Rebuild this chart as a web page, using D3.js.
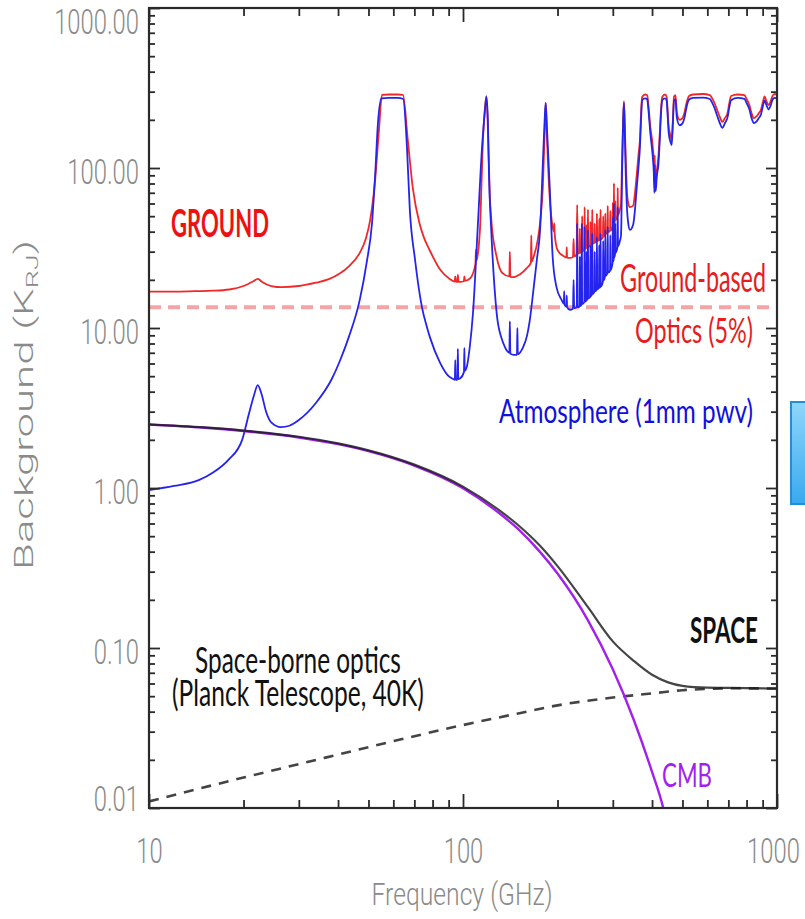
<!DOCTYPE html>
<html>
<head>
<meta charset="utf-8">
<script src="https://cdn.jsdelivr.net/npm/d3@7"></script>
<style>
  html, body { margin: 0; padding: 0; background: #fff; }
  svg { display: block; }
</style>
</head>
<body>
<div id="container"></div>
<script>
// ---- data (frequency in GHz, brightness in K_RJ) ----
const freqMajor = [10, 100, 1000];
const bgMajor = [0.01, 0.1, 1, 10, 100, 1000];

// total ground-based background (atmosphere + warm optics + CMB)
const groundTotal = [
  [10, 16.9], [12, 16.9], [14, 17.0], [16, 17.1], [18, 17.4], [20, 18.3], [21.5, 19.6], [22.2, 20.3],
  [23, 19.3], [24.5, 18.3], [26.5, 18.0], [30, 18.3], [34, 19.2], [37.4, 20.2], [40.5, 21.9], [43.3, 24.3],
  [46.9, 29.5], [49, 36], [50.6, 47], [52.5, 84], [54, 173], [55.2, 286], [58, 288], [62, 288], [64.4, 286],
  [66.7, 150], [69.2, 75], [72.7, 45], [75, 37], [78.4, 30.5], [84.4, 23.3], [90.9, 20.2], [94, 19.5],
  [94.5, 21], [95, 19.5], [96, 19.4], [96.3, 21.5], [96.7, 19.4], [97.9, 19.4], [100.6, 19.6], [101, 21],
  [101.4, 19.7], [105.5, 20.5], [109.5, 25], [110, 31], [110.5, 26.5], [111.5, 29], [113.5, 45], [115.5, 135],
  [117.3, 230], [118.75, 282], [120.3, 150], [121.8, 65], [123, 48], [128, 27.8], [133.6, 22], [140.5, 21],
  [141, 29.9], [141.5, 20.9], [144, 20.8], [152, 21.7], [159.6, 23.7], [164.5, 25.5], [165, 38], [165.5, 26],
  [168, 28], [173, 35.5], [176.5, 48], [179.6, 76], [182, 170], [183.4, 255], [185, 160], [187.5, 84],
  [193, 42.8], [195, 40], [195.4, 45], [195.8, 39], [200, 30.7], [210, 28], [213.5, 27.6], [214, 32],
  [214.5, 27.5], [219, 27.4], [224, 27.8], [225, 36], [226, 28], [230, 29], [231, 58.8], [232, 29.2],
  [235, 29.4], [235.6, 42], [236.2, 29.5], [239, 30], [239.6, 50], [240.2, 30.2], [243.5, 31], [244, 57],
  [244.6, 31.2], [247, 31.6], [247.6, 44], [248.2, 31.8], [249.5, 32], [250, 55], [250.6, 32.2], [254, 32.8],
  [254.6, 46], [255.2, 33], [257.5, 33.4], [258, 55], [258.6, 33.6], [262, 34], [262.6, 45], [263.2, 34.2],
  [266.5, 34.8], [267, 52], [267.6, 35], [271, 35.2], [271.6, 48], [272.2, 35.4], [273.5, 35.5], [274.2, 55],
  [274.8, 35.8], [279, 37], [279.6, 50], [280.2, 37.2], [283.5, 38.5], [284, 52], [284.6, 38.8], [288.5, 39.5],
  [289, 58], [289.6, 39.8], [294, 40.5], [294.6, 54], [295.2, 40.8], [299.5, 43], [300, 60.7], [300.6, 43.5],
  [302, 45], [302.5, 80], [303, 45.5], [305, 47], [305.6, 62], [306.2, 47.5], [310.5, 50], [311, 75],
  [311.6, 50.5], [316, 55], [318.6, 60], [321, 110], [323.5, 200], [325.5, 262], [327.5, 190], [330, 110],
  [333, 70], [336, 60], [340, 57], [348, 58], [353, 70], [357, 88], [362, 120], [366, 150], [369, 220],
  [372, 278], [380, 288], [386, 286], [390, 240], [395, 180], [401, 143], [405, 110], [407, 82], [408, 120],
  [409, 84], [411, 81], [414, 95], [419, 117], [423, 160], [427, 230], [431, 278], [440, 288], [445, 280],
  [449, 220], [452, 180], [458, 160], [462, 150], [466, 200], [470, 280], [475, 285], [480, 221], [490, 200],
  [500, 205], [507, 221], [515, 255], [525, 282], [540, 288], [580, 290], [611, 285], [620, 275], [632, 255],
  [645, 230], [658, 208], [670, 194], [682, 205], [696, 221], [705, 255], [714, 282], [750, 288], [787, 285],
  [800, 270], [817, 247], [830, 220], [844, 205], [860, 210], [875, 220], [889, 231], [900, 255], [913, 280],
  [925, 262], [940, 247], [955, 262], [970, 285], [985, 290], [1000, 286]
];

// atmosphere alone, 1mm pwv
const atmosphere = [
  [10, 0.97], [12, 1.03], [14.4, 1.12], [16, 1.25], [17.9, 1.5], [19.8, 2.0], [20.8, 2.9], [21.6, 3.8],
  [22.2, 4.4], [22.8, 3.9], [23.6, 3.0], [24.6, 2.55], [26.3, 2.4], [28, 2.45], [30, 2.66], [34, 3.4],
  [38.2, 4.8], [40.5, 6.2], [43.3, 8.8], [46.9, 15], [49.4, 26], [51.3, 45], [52.5, 90], [53.6, 191],
  [55, 272], [58, 274], [62, 274], [64.5, 270], [66.3, 135], [67.7, 55], [70.3, 27], [74, 13.5],
  [76.9, 10], [78.4, 8.8], [84.4, 6.1], [90, 5.0], [93, 4.8], [94.2, 4.75], [94.5, 6.3], [94.8, 4.75],
  [96, 4.75], [96.3, 7.4], [96.6, 4.8], [98, 4.85], [100.7, 5.3], [101, 7.5], [101.3, 5.4], [103, 5.8],
  [105, 7.5], [107.6, 12.4], [111.3, 41], [115, 135], [117.5, 230], [118.75, 278], [120, 200], [121, 90],
  [123, 41], [128, 12.4], [133, 8.5], [136, 7.6], [138, 7.2], [140.5, 7.0], [141, 11], [141.5, 6.9],
  [145, 6.8], [148.5, 6.8], [149, 10], [149.5, 6.85], [155, 7.5], [160, 9], [163, 11], [168, 18], [172, 27],
  [176, 41], [179.6, 107], [182, 200], [183.4, 255], [185, 180], [189, 74], [193, 27.8], [198.5, 18],
  [206, 15], [209.5, 14.2], [210, 17], [210.5, 14], [213.5, 13.6], [214, 16], [214.5, 13.5], [219, 13.0],
  [224, 13.2], [225, 20], [226, 13.3], [230.4, 13.5], [231, 45], [231.6, 13.5], [235, 13.6], [235.6, 28],
  [236.2, 13.7], [238.4, 14], [239, 45], [239.6, 14.1], [243.4, 14.5], [244, 43], [244.6, 14.6], [247, 14.9],
  [247.6, 30], [248.2, 15], [249.4, 15.2], [250, 41], [250.6, 15.3], [254, 15.6], [254.6, 33], [255.2, 15.8],
  [257.4, 16.2], [258, 39], [258.6, 16.3], [262, 16.8], [262.6, 30], [263.2, 17], [266.4, 17.3], [267, 37],
  [267.6, 17.5], [271, 17.8], [271.6, 33], [272.2, 17.9], [273.6, 18], [274.2, 39], [274.8, 18.2], [279, 19.5],
  [279.6, 35], [280.2, 19.8], [283.4, 21], [284, 41], [284.6, 21.2], [288.4, 22], [289, 43], [289.6, 22.2],
  [294, 22.8], [294.6, 38], [295.2, 23], [299.4, 25.5], [300, 49], [300.6, 26], [302, 27], [302.5, 60],
  [303, 27.5], [305, 29], [305.6, 45], [306.2, 29.5], [310.4, 32], [311, 57], [311.6, 32.5], [316, 35],
  [318.6, 38], [321, 90], [323.5, 190], [325.5, 255], [327.5, 170], [330, 90], [333, 55], [336, 45], [340, 41],
  [348, 44], [353, 55], [357, 73], [362, 100], [366, 135], [369, 200], [372, 265], [380, 272], [386, 268],
  [390, 225], [395, 165], [401, 125], [405, 95], [407, 70], [408, 105], [409, 72], [411, 72], [414, 88],
  [419, 105], [423, 145], [427, 215], [431, 265], [440, 272], [445, 265], [449, 205], [452, 165], [458, 145],
  [462, 139], [466, 190], [470, 265], [475, 268], [480, 205], [490, 185], [500, 190], [507, 205], [515, 240],
  [525, 268], [540, 274], [580, 275], [611, 270], [620, 258], [632, 238], [645, 212], [658, 190], [670, 178],
  [682, 190], [696, 208], [705, 240], [714, 265], [750, 274], [787, 270], [800, 255], [817, 232], [830, 205],
  [844, 191], [860, 195], [875, 205], [889, 216], [900, 240], [913, 265], [925, 248], [940, 232], [955, 247],
  [970, 270], [985, 274], [1000, 272]
];

const groundOptics = [[10, 13.5], [1000, 13.5]];

const cmb = [
  [10, 2.49], [15, 2.38], [20, 2.27], [30, 2.07], [40, 1.88], [50, 1.70], [70, 1.38], [100, 0.996],
  [130, 0.70], [150, 0.553], [175, 0.403], [200, 0.292], [250, 0.149], [300, 0.0736], [350, 0.0355],
  [400, 0.0168], [433, 0.0102], [440, 0.0089]
];

const spaceOptics = [
  [10, 0.011], [20, 0.0155], [30, 0.0188], [50, 0.024], [70, 0.0281], [100, 0.033], [150, 0.039],
  [200, 0.0438], [300, 0.049], [400, 0.052], [500, 0.0545], [600, 0.0555], [700, 0.056], [1000, 0.0558]
];

const spaceTotal = [
  [10, 2.50], [15, 2.39], [20, 2.285], [30, 2.09], [40, 1.90], [50, 1.72], [70, 1.40], [100, 1.02],
  [130, 0.73], [150, 0.585], [175, 0.44], [200, 0.325], [250, 0.18], [300, 0.11], [350, 0.083],
  [400, 0.068], [450, 0.061], [500, 0.058], [600, 0.0565], [700, 0.0563], [1000, 0.0558]
];

// ---- layout ----
const width = 805, height = 919;
const plot = { left: 149, right: 777, top: 8, bottom: 808 };
const AXIS_FONT = "Roboto, 'Open Sans', sans-serif";
const NOTE_FONT = "Lato, 'Open Sans', sans-serif";
const AXIS_GREY = '#8a8a8a';

const svg = d3.select('#container').append('svg')
  .attr('width', width)
  .attr('height', height);

const x = d3.scaleLog().domain([10, 1000]).range([plot.left, plot.right]);
const y = d3.scaleLog().domain([0.01, 1000]).range([plot.bottom, plot.top]);

svg.append('clipPath').attr('id', 'plotclip')
  .append('rect')
  .attr('x', plot.left).attr('y', plot.top)
  .attr('width', plot.right - plot.left).attr('height', plot.bottom - plot.top);

const line = d3.line()
  .x(d => x(d[0]))
  .y(d => y(d[1]))
  .curve(d3.curveMonotoneX);

const curves = svg.append('g').attr('clip-path', 'url(#plotclip)');

curves.append('path').datum(groundOptics)
  .attr('d', line).attr('fill', 'none')
  .attr('stroke', '#f4a4a4').attr('stroke-width', 4).attr('stroke-dasharray', '12,7');

curves.append('path').datum(groundTotal)
  .attr('d', line).attr('fill', 'none')
  .attr('stroke', '#f02828').attr('stroke-width', 1.8).attr('stroke-linejoin', 'round');

curves.append('path').datum(atmosphere)
  .attr('d', line).attr('fill', 'none')
  .attr('stroke', '#2424ee').attr('stroke-width', 1.8).attr('stroke-linejoin', 'round');

curves.append('path').datum(spaceOptics)
  .attr('d', line).attr('fill', 'none')
  .attr('stroke', '#444').attr('stroke-width', 2.6).attr('stroke-dasharray', '10,8');

curves.append('path').datum(cmb)
  .attr('d', line).attr('fill', 'none')
  .attr('stroke', '#a21ff0').attr('stroke-width', 2.4);

curves.append('path').datum(spaceTotal)
  .attr('d', line).attr('fill', 'none')
  .attr('stroke', '#1c1c1c').attr('stroke-width', 2.2).attr('stroke-opacity', 0.82);

// ---- axes (IDL style: ticks pointing inwards on all four sides) ----
const xAll = x.ticks();
const yAll = y.ticks();
const isMajor = d => Math.abs(Math.log10(d) - Math.round(Math.log10(d))) < 1e-9;
const xMinor = xAll.filter(d => !isMajor(d));
const yMinor = yAll.filter(d => !isMajor(d));

function ticks(axisFn, scale, values, size, tx, ty) {
  const g = svg.append('g')
    .attr('transform', `translate(${tx},${ty})`)
    .call(axisFn(scale).tickValues(values).tickSizeInner(size).tickSizeOuter(0).tickFormat(''));
  g.select('.domain').remove();
  g.selectAll('line').attr('stroke', '#2a2a2a').attr('stroke-width', 1.8);
}

ticks(d3.axisBottom, x, freqMajor, -14, 0, plot.bottom);
ticks(d3.axisBottom, x, xMinor, -8, 0, plot.bottom);
ticks(d3.axisTop, x, freqMajor, -14, 0, plot.top);
ticks(d3.axisTop, x, xMinor, -8, 0, plot.top);
ticks(d3.axisLeft, y, bgMajor, -11, plot.left, 0);
ticks(d3.axisLeft, y, yMinor, -6, plot.left, 0);
ticks(d3.axisRight, y, bgMajor, -11, plot.right, 0);
ticks(d3.axisRight, y, yMinor, -6, plot.right, 0);

svg.append('rect')
  .attr('x', plot.left).attr('y', plot.top)
  .attr('width', plot.right - plot.left).attr('height', plot.bottom - plot.top)
  .attr('fill', 'none').attr('stroke', '#2a2a2a').attr('stroke-width', 2.2);

// tick labels: the source picture is stretched vertically, so squeeze glyphs
const SQUEEZE = 0.68;

const yLab = svg.append('g')
  .attr('transform', `translate(${plot.left},0)`)
  .call(d3.axisLeft(y).tickValues(bgMajor).tickSize(0).tickFormat(d3.format('.2f')));
yLab.select('.domain').remove();
yLab.selectAll('text')
  .attr('x', 0).attr('dy', null)
  .attr('font-family', AXIS_FONT).attr('font-weight', 300)
  .attr('font-size', 35).attr('fill', AXIS_GREY)
  .attr('transform', d => {
    const off = d === 1000 ? 25 : d === 0.01 ? 2 : 15;
    return `translate(-10,${off}) scale(${SQUEEZE},1)`;
  });

const xLab = svg.append('g')
  .attr('transform', `translate(0,${plot.bottom})`)
  .call(d3.axisBottom(x).tickValues(freqMajor).tickSize(0).tickFormat(d3.format('d')));
xLab.select('.domain').remove();
xLab.selectAll('text')
  .attr('y', 0).attr('dy', null)
  .attr('font-family', AXIS_FONT).attr('font-weight', 300)
  .attr('font-size', 35).attr('fill', AXIS_GREY)
  .attr('transform', d => `translate(${d === 1000 ? -4 : 0},55) scale(${SQUEEZE},1)`);

// ---- text helper: fit a label to the width it has in the picture ----
function note(str, o) {
  const t = svg.append('text')
    .attr('font-family', o.family || NOTE_FONT)
    .attr('font-size', o.size)
    .attr('font-weight', o.weight || 400)
    .attr('fill', o.fill)
    .attr('text-anchor', o.anchor || 'start');
  if (o.build) o.build(t); else t.text(str);
  const w = t.node().getComputedTextLength();
  const sx = o.width / w;
  t.attr('transform', `translate(${o.x},${o.y}) rotate(${o.rotate || 0}) scale(${sx},1)`);
  return t;
}

// axis titles
note('Frequency (GHz)', { x: 462, y: 905, size: 31, width: 181, anchor: 'middle',
  fill: AXIS_GREY, family: AXIS_FONT, weight: 300 });

note(null, { x: 33, y: 405, size: 26, width: 330, anchor: 'middle', rotate: -90,
  fill: AXIS_GREY, family: AXIS_FONT, weight: 300,
  build: t => {
    t.append('tspan').text('Background (K');
    t.append('tspan').attr('font-size', 17).attr('dy', 5).text('RJ');
    t.append('tspan').attr('dy', -5).text(')');
  } });

// annotations
note('GROUND', { x: 171, y: 237, size: 37.5, width: 98, weight: 700, fill: '#ee1111' });
note('Ground-based', { x: 766, y: 292, size: 38, width: 146, anchor: 'end', fill: '#e81c1c' });
note('Optics (5%)', { x: 753, y: 343, size: 35.5, width: 118, anchor: 'end', fill: '#e81c1c' });
note('Atmosphere (1mm pwv)', { x: 753, y: 423, size: 33, width: 254, anchor: 'end', fill: '#1010dd' });
note('SPACE', { x: 758, y: 643, size: 36, width: 68, anchor: 'end', weight: 700, fill: '#111' });
note('Space-borne optics', { x: 195, y: 673, size: 37, width: 206, fill: '#111' });
note('(Planck Telescope, 40K)', { x: 172, y: 706, size: 36, width: 252, fill: '#111' });
note('CMB', { x: 662, y: 787, size: 33.5, width: 50, fill: '#a21ff0' });

// partial blue box at the right edge of the picture
const grad = svg.append('defs').append('linearGradient')
  .attr('id', 'boxfill').attr('x1', 0).attr('y1', 0).attr('x2', 0).attr('y2', 1);
grad.append('stop').attr('offset', '0%').attr('stop-color', '#8fd6fb');
grad.append('stop').attr('offset', '100%').attr('stop-color', '#3aa9ef');
svg.append('rect')
  .attr('x', 791).attr('y', 402).attr('width', 30).attr('height', 102)
  .attr('fill', 'url(#boxfill)').attr('stroke', '#1e8fd8').attr('stroke-width', 2);
</script>
</body>
</html>
